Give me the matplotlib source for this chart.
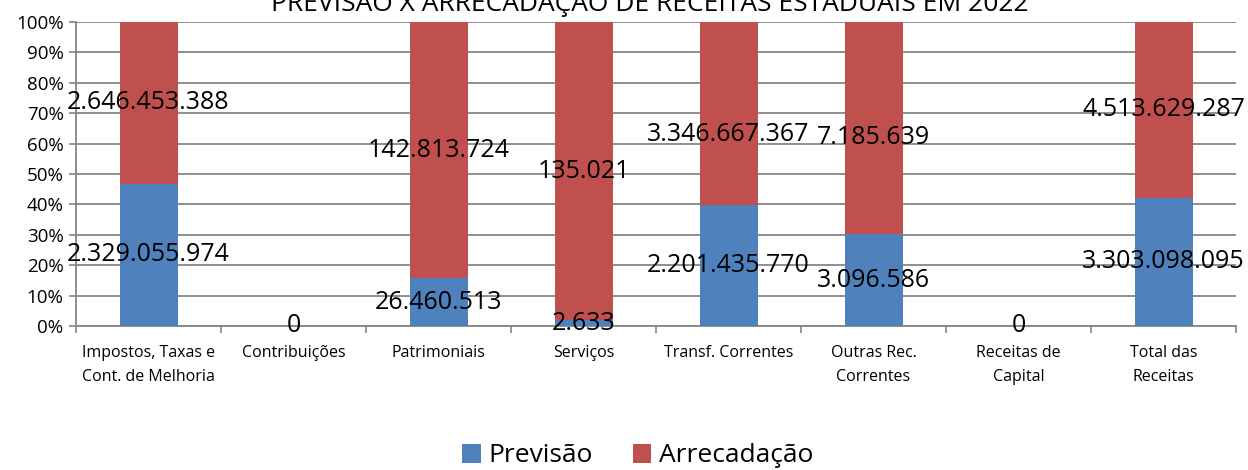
import matplotlib
matplotlib.use("Agg")
import matplotlib.pyplot as plt
import numpy as np

categories = ["Impostos, Taxas e\nCont. de Melhoria", "Contribuições", "Patrimoniais", "Serviços",
              "Transf. Correntes", "Outras Rec.\nCorrentes", "Receitas de\nCapital", "Total das\nReceitas"]
previsao = [2329055974, 0, 26460513, 2633, 2201435770, 3096586, 0, 3303098095]
arrecadacao = [2646453388, 0, 142813724, 135021, 3346667367, 7185639, 0, 4513629287]
title = "PREVISÃO X ARRECADAÇÃO DE RECEITAS ESTADUAIS EM 2022"

BLUE = "#4F81BD"
RED = "#C0504D"
FONT = ["Open Sans", "DejaVu Sans"]
plt.rcParams["font.family"] = FONT

def fmt(v):
    return f"{v:,}".replace(",", ".")

prev = np.array(previsao, dtype=float)
arr = np.array(arrecadacao, dtype=float)
tot = prev + arr
with np.errstate(invalid="ignore", divide="ignore"):
    p_prev = np.where(tot > 0, prev / tot * 100, 0)
    p_arr = np.where(tot > 0, arr / tot * 100, 0)

fig = plt.figure(figsize=(12.48, 4.70), dpi=100)
ax = fig.add_axes([76 / 1248, 1 - 326 / 470, (1236 - 76) / 1248, (326 - 22) / 470])
x = np.arange(len(categories))
w = 0.4
ax.bar(x, p_prev, w, color=BLUE, label="Previsão", zorder=3)
ax.bar(x, p_arr, w, bottom=p_prev, color=RED, label="Arrecadação", zorder=3)

ax.set_xlim(-0.5, len(categories) - 0.5)
ax.set_ylim(0, 100)
ax.set_yticks(np.arange(0, 101, 10))
ax.set_yticklabels([f"{t}%" for t in range(0, 101, 10)], fontsize=13.5)
ax.set_xticks(x)
ax.set_xticklabels(categories, fontsize=11.5, linespacing=1.6, va="top")
ax.set_xticks(np.arange(-0.5, len(categories), 1), minor=True)
ax.tick_params(axis="x", which="major", length=0, pad=14)
ax.tick_params(axis="x", which="minor", length=5, color="#868686", width=1.2)
ax.tick_params(axis="y", length=5, color="#868686", width=1.2, pad=4)
ax.yaxis.grid(True, color="#868686", linewidth=1.3, zorder=0)
for s in ["top", "right"]:
    ax.spines[s].set_visible(False)
for s in ["left", "bottom"]:
    ax.spines[s].set_color("#868686")
    ax.spines[s].set_linewidth(1.3)

# label vertical tweaks (in % units) to mirror the reference placement
arr_label_shift = {4: -7, 5: -3}

lab_fs = 18
for i in range(len(categories)):
    if tot[i] == 0:
        ax.text(x[i], 0, "0", ha="center", va="center", fontsize=lab_fs, zorder=5)
        continue
    ax.text(x[i], p_prev[i] / 2, fmt(previsao[i]), ha="center", va="center", fontsize=lab_fs, zorder=5)
    yc = p_prev[i] + p_arr[i] / 2 + arr_label_shift.get(i, 0)
    ax.text(x[i], yc, fmt(arrecadacao[i]), ha="center", va="center", fontsize=lab_fs, zorder=5)

fig.text(0.521, 1 - 2 / 470, title, ha="center", va="center", fontsize=19)

fig.legend(loc="center", bbox_to_anchor=(0.511, 1 - 456 / 470), ncol=2, frameon=False,
           fontsize=19, handlelength=0.7, handleheight=0.7, columnspacing=1.5, handletextpad=0.3)

fig.savefig("out.png", dpi=100)
